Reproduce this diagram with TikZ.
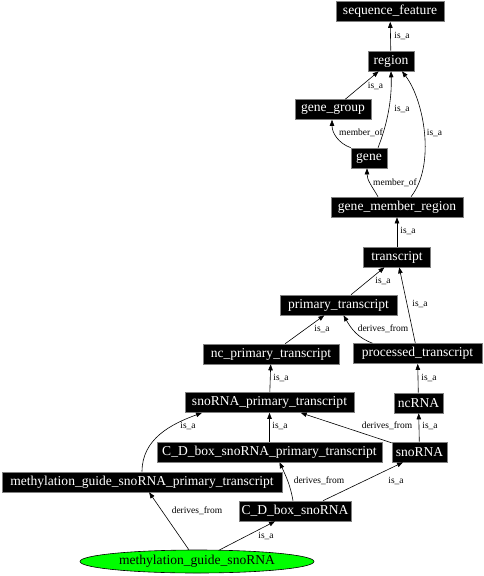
\documentclass[tikz,border=0pt]{standalone}
\usepackage{fontspec}
\setmainfont{Liberation Serif}
\usetikzlibrary{arrows.meta,shapes.geometric}

\begin{document}
\begin{tikzpicture}[x=1bp,y=1bp,
  term/.style={fill=black,draw=gray,line width=0.6bp,text=white,inner xsep=2bp,inner ysep=0pt,
    minimum height=20bp,font=\fontsize{13.6}{14}\selectfont},
  leaf/.style={ellipse,fill=green,draw=black,line width=0.6bp,inner sep=0pt,
    minimum width=234bp,minimum height=23bp,font=\fontsize{13.6}{14}\selectfont},
  rel/.style={draw=black,line width=0.6bp,-{Triangle[length=6bp,width=4.5bp]}},
  lbl/.style={inner sep=0pt,font=\fontsize{9.5}{10}\selectfont}]
\useasboundingbox (0,0) rectangle (484,-576);
\node [term,minimum width=108bp] (seqf) at (390,-11.5) {sequence\_feature};
\node [term,minimum width=46bp] (region) at (391,-61) {region};
\node [term,minimum width=76bp] (gg) at (333,-109.5) {gene\_group};
\node [term,minimum width=36bp] (gene) at (369,-158) {gene};
\node [term,minimum width=132bp] (gmr) at (397,-207) {gene\_member\_region};
\node [term,minimum width=67bp] (tr) at (397,-257) {transcript};
\node [term,minimum width=117bp] (pt) at (338.5,-305) {primary\_transcript};
\node [term,minimum width=136bp] (ncpt) at (271,-354) {nc\_primary\_transcript};
\node [term,minimum width=129bp] (proc) at (417.5,-353.5) {processed\_transcript};
\node [term,minimum width=169bp] (snopt) at (269.5,-402.5) {snoRNA\_primary\_transcript};
\node [term,minimum width=49bp] (ncrna) at (418.5,-403) {ncRNA};
\node [term,minimum width=225bp] (cdpt) at (269.5,-452) {C\_D\_box\_snoRNA\_primary\_transcript};
\node [term,minimum width=55bp] (snorna) at (419.5,-452) {snoRNA};
\node [term,minimum width=280bp] (mgpt) at (142,-482) {methylation\_guide\_snoRNA\_primary\_transcript};
\node [term,minimum width=112bp] (cdsno) at (295,-511) {C\_D\_box\_snoRNA};
\node [leaf] (mgsno) at (197,-561.5) {methylation\_guide\_snoRNA};
% relations, child to parent
\draw [rel] (region) -- (seqf);
\draw [rel] (gg) -- (region);
\draw [rel] ([xshift=9bp]gene.north) .. controls (387,-125) and (392,-100) .. (region.south);
\draw [rel] (gene.north west) to[out=160,in=-90] ([xshift=-1bp]gg.south);
\draw [rel] ([xshift=14bp]gmr.north) .. controls (436,-165) and (424,-100) .. ([xshift=11bp]region.south);
\draw [rel] ([xshift=-19bp]gmr.north) to[out=120,in=-90] ([xshift=-2bp]gene.south);
\draw [rel] (tr) -- (gmr);
\draw [rel] (pt) -- (tr);
\draw [rel] (proc) -- (tr);
\draw [rel] ([xshift=-45bp]proc.north) to[out=160,in=-60] ([xshift=5bp]pt.south);
\draw [rel] (ncpt) -- (pt);
\draw [rel] (snopt) -- (ncpt);
\draw [rel] (ncrna) -- (proc);
\draw [rel] (snorna) -- (ncrna);
\draw [rel] (snorna) -- (snopt);
\draw [rel] (cdpt) -- (snopt);
\draw [rel] (mgpt.north) to[out=90,in=200] ([xshift=-67.5bp]snopt.south);
\draw [rel] ([xshift=28bp]cdsno.north) -- ([xshift=-16.5bp]snorna.south);
\draw [rel] ([xshift=-2bp]cdsno.north) to[out=100,in=-65] ([xshift=10bp]cdpt.south);
\draw [rel] (mgsno) -- (mgpt);
\draw [rel] (mgsno) -- (cdsno);
% relation labels
\node [lbl] (l1) at (402,-36) {is\_a};
\node [lbl] (l2) at (375.5,-86) {is\_a};
\node [lbl] (l3) at (402,-109) {is\_a};
\node [lbl] (l4) at (361,-133) {member\_of};
\node [lbl] (l5) at (434.5,-133) {is\_a};
\node [lbl] (l6) at (395,-183) {member\_of};
\node [lbl] (l7) at (408,-231) {is\_a};
\node [lbl] (l8) at (383,-281) {is\_a};
\node [lbl] (l9) at (420,-304) {is\_a};
\node [lbl] (l10) at (383,-329) {derives\_from};
\node [lbl] (l11) at (322,-329) {is\_a};
\node [lbl] (l12) at (281,-378) {is\_a};
\node [lbl] (l13) at (429,-378) {is\_a};
\node [lbl] (l14) at (430,-426) {is\_a};
\node [lbl] (l15) at (387,-426) {derives\_from};
\node [lbl] (l16) at (280,-426) {is\_a};
\node [lbl] (l17) at (188,-426) {is\_a};
\node [lbl] (l18) at (396,-481) {is\_a};
\node [lbl] (l19) at (319,-481) {derives\_from};
\node [lbl] (l20) at (197,-511) {derives\_from};
\node [lbl] (l21) at (266,-536) {is\_a};
\end{tikzpicture}
\end{document}
